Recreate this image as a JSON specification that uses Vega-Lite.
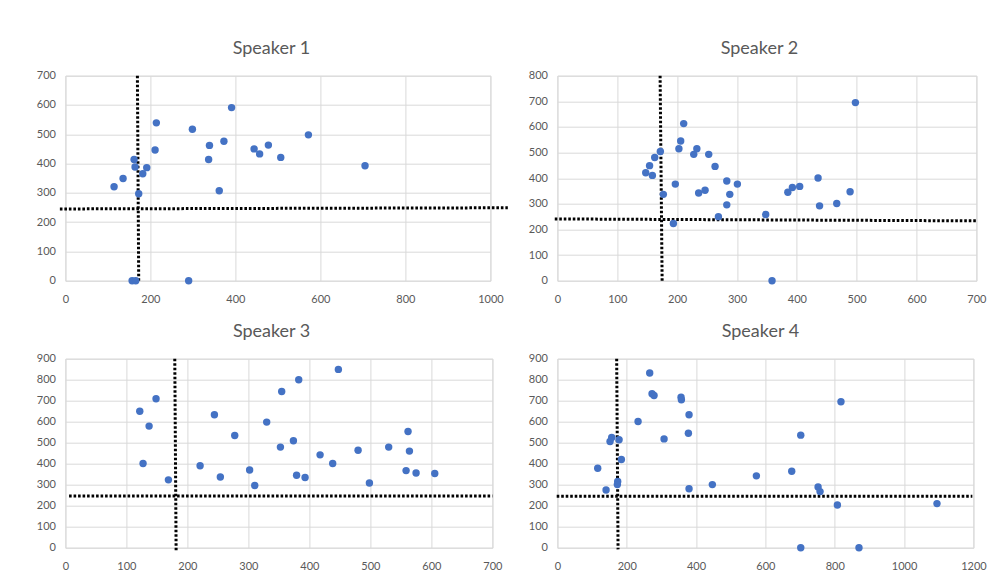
{
  "$schema": "https://vega.github.io/schema/vega-lite/v6.json",
  "background": "white",
  "padding": {"left": 35.4, "top": 39.7, "right": 5, "bottom": 5},
  "columns": 2,
  "spacing": {"row": 78, "column": 65},
  "bounds": "flush",
  "datasets": {
    "points": [
      {"speaker": "Speaker 1", "x": 114.5, "y": 321},
      {"speaker": "Speaker 1", "x": 135.7, "y": 349},
      {"speaker": "Speaker 1", "x": 161.6, "y": 414},
      {"speaker": "Speaker 1", "x": 163.9, "y": 388},
      {"speaker": "Speaker 1", "x": 172.5, "y": 297},
      {"speaker": "Speaker 1", "x": 182, "y": 365},
      {"speaker": "Speaker 1", "x": 191.4, "y": 386},
      {"speaker": "Speaker 1", "x": 211, "y": 446},
      {"speaker": "Speaker 1", "x": 214, "y": 539},
      {"speaker": "Speaker 1", "x": 157, "y": 0},
      {"speaker": "Speaker 1", "x": 165.5, "y": 0},
      {"speaker": "Speaker 1", "x": 290, "y": 0},
      {"speaker": "Speaker 1", "x": 298.8, "y": 517},
      {"speaker": "Speaker 1", "x": 337, "y": 414},
      {"speaker": "Speaker 1", "x": 339, "y": 462},
      {"speaker": "Speaker 1", "x": 362, "y": 307},
      {"speaker": "Speaker 1", "x": 373, "y": 476},
      {"speaker": "Speaker 1", "x": 391, "y": 591},
      {"speaker": "Speaker 1", "x": 444, "y": 450},
      {"speaker": "Speaker 1", "x": 457, "y": 433},
      {"speaker": "Speaker 1", "x": 477.6, "y": 463},
      {"speaker": "Speaker 1", "x": 506.7, "y": 421},
      {"speaker": "Speaker 1", "x": 571.8, "y": 498},
      {"speaker": "Speaker 1", "x": 705, "y": 392.5},
      {"speaker": "Speaker 2", "x": 147.6, "y": 421},
      {"speaker": "Speaker 2", "x": 154, "y": 449},
      {"speaker": "Speaker 2", "x": 158.7, "y": 411},
      {"speaker": "Speaker 2", "x": 162.6, "y": 481},
      {"speaker": "Speaker 2", "x": 172, "y": 504},
      {"speaker": "Speaker 2", "x": 177, "y": 337},
      {"speaker": "Speaker 2", "x": 197, "y": 377},
      {"speaker": "Speaker 2", "x": 193.8, "y": 223},
      {"speaker": "Speaker 2", "x": 203, "y": 515},
      {"speaker": "Speaker 2", "x": 206, "y": 545},
      {"speaker": "Speaker 2", "x": 211, "y": 613},
      {"speaker": "Speaker 2", "x": 227.8, "y": 493},
      {"speaker": "Speaker 2", "x": 233, "y": 515},
      {"speaker": "Speaker 2", "x": 236, "y": 342},
      {"speaker": "Speaker 2", "x": 246.7, "y": 353},
      {"speaker": "Speaker 2", "x": 252.8, "y": 493},
      {"speaker": "Speaker 2", "x": 263.4, "y": 446},
      {"speaker": "Speaker 2", "x": 283, "y": 389},
      {"speaker": "Speaker 2", "x": 288, "y": 337},
      {"speaker": "Speaker 2", "x": 283, "y": 296},
      {"speaker": "Speaker 2", "x": 269, "y": 250},
      {"speaker": "Speaker 2", "x": 300.7, "y": 377},
      {"speaker": "Speaker 2", "x": 348, "y": 258},
      {"speaker": "Speaker 2", "x": 358.6, "y": 0},
      {"speaker": "Speaker 2", "x": 385, "y": 345},
      {"speaker": "Speaker 2", "x": 392.6, "y": 364},
      {"speaker": "Speaker 2", "x": 404.8, "y": 368},
      {"speaker": "Speaker 2", "x": 435.5, "y": 401},
      {"speaker": "Speaker 2", "x": 438, "y": 292},
      {"speaker": "Speaker 2", "x": 466.7, "y": 301},
      {"speaker": "Speaker 2", "x": 489, "y": 347},
      {"speaker": "Speaker 2", "x": 497.9, "y": 695},
      {"speaker": "Speaker 3", "x": 121.9, "y": 650},
      {"speaker": "Speaker 3", "x": 127.3, "y": 401},
      {"speaker": "Speaker 3", "x": 137.2, "y": 579},
      {"speaker": "Speaker 3", "x": 148.6, "y": 709},
      {"speaker": "Speaker 3", "x": 168.9, "y": 323},
      {"speaker": "Speaker 3", "x": 220.8, "y": 390},
      {"speaker": "Speaker 3", "x": 244.3, "y": 633},
      {"speaker": "Speaker 3", "x": 254, "y": 337},
      {"speaker": "Speaker 3", "x": 277.6, "y": 534},
      {"speaker": "Speaker 3", "x": 302, "y": 370},
      {"speaker": "Speaker 3", "x": 310.4, "y": 296},
      {"speaker": "Speaker 3", "x": 330, "y": 598},
      {"speaker": "Speaker 3", "x": 352.5, "y": 479},
      {"speaker": "Speaker 3", "x": 354.6, "y": 744},
      {"speaker": "Speaker 3", "x": 373.8, "y": 509},
      {"speaker": "Speaker 3", "x": 379, "y": 345},
      {"speaker": "Speaker 3", "x": 382.5, "y": 800},
      {"speaker": "Speaker 3", "x": 392.9, "y": 334},
      {"speaker": "Speaker 3", "x": 417.5, "y": 442},
      {"speaker": "Speaker 3", "x": 438.2, "y": 401},
      {"speaker": "Speaker 3", "x": 447.5, "y": 849},
      {"speaker": "Speaker 3", "x": 479.8, "y": 464},
      {"speaker": "Speaker 3", "x": 498.4, "y": 308},
      {"speaker": "Speaker 3", "x": 530, "y": 479},
      {"speaker": "Speaker 3", "x": 558.5, "y": 367},
      {"speaker": "Speaker 3", "x": 561.7, "y": 553},
      {"speaker": "Speaker 3", "x": 564, "y": 460},
      {"speaker": "Speaker 3", "x": 574.9, "y": 356},
      {"speaker": "Speaker 3", "x": 605.5, "y": 353},
      {"speaker": "Speaker 4", "x": 116.3, "y": 378},
      {"speaker": "Speaker 4", "x": 140.4, "y": 275},
      {"speaker": "Speaker 4", "x": 151.9, "y": 506},
      {"speaker": "Speaker 4", "x": 156.7, "y": 525},
      {"speaker": "Speaker 4", "x": 177.9, "y": 514},
      {"speaker": "Speaker 4", "x": 174, "y": 315},
      {"speaker": "Speaker 4", "x": 173, "y": 300.5},
      {"speaker": "Speaker 4", "x": 184.6, "y": 420},
      {"speaker": "Speaker 4", "x": 232.7, "y": 601},
      {"speaker": "Speaker 4", "x": 266.3, "y": 832},
      {"speaker": "Speaker 4", "x": 273, "y": 733},
      {"speaker": "Speaker 4", "x": 278.8, "y": 725},
      {"speaker": "Speaker 4", "x": 307.7, "y": 518},
      {"speaker": "Speaker 4", "x": 356.7, "y": 716},
      {"speaker": "Speaker 4", "x": 357.7, "y": 704},
      {"speaker": "Speaker 4", "x": 379.8, "y": 633},
      {"speaker": "Speaker 4", "x": 377.9, "y": 545},
      {"speaker": "Speaker 4", "x": 379.8, "y": 281},
      {"speaker": "Speaker 4", "x": 447, "y": 300.5},
      {"speaker": "Speaker 4", "x": 574, "y": 342},
      {"speaker": "Speaker 4", "x": 676, "y": 364},
      {"speaker": "Speaker 4", "x": 702, "y": 536},
      {"speaker": "Speaker 4", "x": 702, "y": 0},
      {"speaker": "Speaker 4", "x": 752, "y": 289},
      {"speaker": "Speaker 4", "x": 757.7, "y": 267},
      {"speaker": "Speaker 4", "x": 807.7, "y": 203.5},
      {"speaker": "Speaker 4", "x": 818, "y": 695},
      {"speaker": "Speaker 4", "x": 870, "y": 0},
      {"speaker": "Speaker 4", "x": 1095, "y": 210}
    ],
    "lines": [
      {"speaker": "Speaker 1", "x": 169.4, "y": 700, "x2": 172.5, "y2": -5},
      {"speaker": "Speaker 1", "x": -13, "y": 245, "x2": 1041, "y2": 249},
      {"speaker": "Speaker 2", "x": 171.6, "y": 800, "x2": 175, "y2": -4},
      {"speaker": "Speaker 2", "x": -4.4, "y": 241, "x2": 701, "y2": 233.5},
      {"speaker": "Speaker 3", "x": 179.3, "y": 900, "x2": 181.5, "y2": -15},
      {"speaker": "Speaker 3", "x": 6, "y": 246.6, "x2": 700, "y2": 246.6},
      {"speaker": "Speaker 4", "x": 171, "y": 900, "x2": 175, "y2": -8},
      {"speaker": "Speaker 4", "x": -2, "y": 244.7, "x2": 1197, "y2": 244.7}
    ]
  },
  "concat": [
    {
      "width": 425, "height": 205,
      "title": {"text": "Speaker 1", "dx": -6.5},
      "encoding": {
        "x": {"field": "x", "type": "quantitative", "scale": {"domain": [0, 1000], "nice": false}, "axis": {"values": [0, 200, 400, 600, 800, 1000]}},
        "y": {"field": "y", "type": "quantitative", "scale": {"domain": [0, 700], "nice": false}, "axis": {"values": [0, 100, 200, 300, 400, 500, 600, 700]}}
      },
      "layer": [
        {
          "data": {"name": "lines"},
          "transform": [{"filter": "datum.speaker === 'Speaker 1'"}],
          "mark": {"type": "rule", "color": "black", "strokeWidth": 3, "strokeDash": [2.6, 1.9], "clip": false},
          "encoding": {"x2": {"field": "x2"}, "y2": {"field": "y2"}}
        },
        {
          "data": {"name": "points"},
          "transform": [{"filter": "datum.speaker === 'Speaker 1'"}],
          "mark": {"type": "circle", "color": "#4472C4", "size": 55, "opacity": 1},
          "encoding": {}
        }
      ]
    },
    {
      "width": 419, "height": 205,
      "title": {"text": "Speaker 2", "dx": -7.5},
      "encoding": {
        "x": {"field": "x", "type": "quantitative", "scale": {"domain": [0, 700], "nice": false}, "axis": {"values": [0, 100, 200, 300, 400, 500, 600, 700]}},
        "y": {"field": "y", "type": "quantitative", "scale": {"domain": [0, 800], "nice": false}, "axis": {"values": [0, 100, 200, 300, 400, 500, 600, 700, 800]}}
      },
      "layer": [
        {
          "data": {"name": "lines"},
          "transform": [{"filter": "datum.speaker === 'Speaker 2'"}],
          "mark": {"type": "rule", "color": "black", "strokeWidth": 3, "strokeDash": [2.6, 1.9], "clip": false},
          "encoding": {"x2": {"field": "x2"}, "y2": {"field": "y2"}}
        },
        {
          "data": {"name": "points"},
          "transform": [{"filter": "datum.speaker === 'Speaker 2'"}],
          "mark": {"type": "circle", "color": "#4472C4", "size": 55, "opacity": 1},
          "encoding": {}
        }
      ]
    },
    {
      "width": 427, "height": 189,
      "title": {"text": "Speaker 3", "dx": -7.3},
      "encoding": {
        "x": {"field": "x", "type": "quantitative", "scale": {"domain": [0, 700], "nice": false}, "axis": {"values": [0, 100, 200, 300, 400, 500, 600, 700]}},
        "y": {"field": "y", "type": "quantitative", "scale": {"domain": [0, 900], "nice": false}, "axis": {"values": [0, 100, 200, 300, 400, 500, 600, 700, 800, 900]}}
      },
      "layer": [
        {
          "data": {"name": "lines"},
          "transform": [{"filter": "datum.speaker === 'Speaker 3'"}],
          "mark": {"type": "rule", "color": "black", "strokeWidth": 3, "strokeDash": [2.6, 1.9], "clip": false},
          "encoding": {"x2": {"field": "x2"}, "y2": {"field": "y2"}}
        },
        {
          "data": {"name": "points"},
          "transform": [{"filter": "datum.speaker === 'Speaker 3'"}],
          "mark": {"type": "circle", "color": "#4472C4", "size": 55, "opacity": 1},
          "encoding": {}
        }
      ]
    },
    {
      "width": 416, "height": 189,
      "title": {"text": "Speaker 4", "dx": -5},
      "encoding": {
        "x": {"field": "x", "type": "quantitative", "scale": {"domain": [0, 1200], "nice": false}, "axis": {"values": [0, 200, 400, 600, 800, 1000, 1200]}},
        "y": {"field": "y", "type": "quantitative", "scale": {"domain": [0, 900], "nice": false}, "axis": {"values": [0, 100, 200, 300, 400, 500, 600, 700, 800, 900]}}
      },
      "layer": [
        {
          "data": {"name": "lines"},
          "transform": [{"filter": "datum.speaker === 'Speaker 4'"}],
          "mark": {"type": "rule", "color": "black", "strokeWidth": 3, "strokeDash": [2.6, 1.9], "clip": false},
          "encoding": {"x2": {"field": "x2"}, "y2": {"field": "y2"}}
        },
        {
          "data": {"name": "points"},
          "transform": [{"filter": "datum.speaker === 'Speaker 4'"}],
          "mark": {"type": "circle", "color": "#4472C4", "size": 55, "opacity": 1},
          "encoding": {}
        }
      ]
    }
  ],
  "config": {
    "font": "Lato",
    "view": {"stroke": "#d9d9d9", "strokeWidth": 1},
    "title": {"font": "Lato", "fontSize": 18, "fontWeight": "normal", "color": "#595959", "anchor": "middle", "baseline": "alphabetic", "offset": 11.5},
    "axis": {
      "title": null,
      "domain": false,
      "ticks": false,
      "tickSize": 0,
      "grid": true,
      "gridColor": "#d9d9d9",
      "gridWidth": 1,
      "format": "d",
      "labelOverlap": false,
      "labelFlush": false,
      "labelFont": "Lato",
      "labelFontSize": 11,
      "labelColor": "#595959"
    },
    "axisX": {"labelPadding": 13},
    "axisY": {"labelPadding": 10}
  }
}
